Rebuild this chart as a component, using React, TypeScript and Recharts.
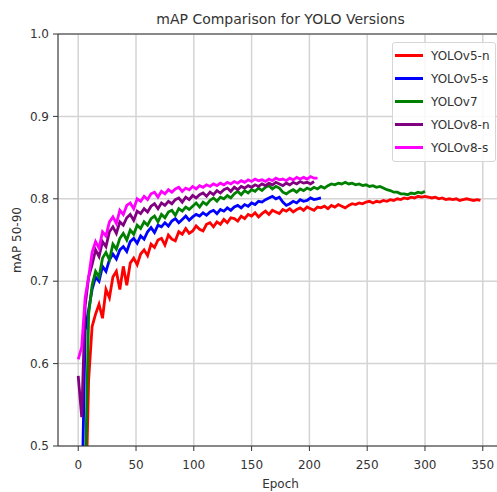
import React from 'react';
import { LineChart, Line, XAxis, YAxis, CartesianGrid, ReferenceLine } from 'recharts';

// epochs sampled every 3
const EPOCHS = [
  0, 3, 6, 9, 12, 15, 18, 21, 24, 27, 30, 33, 36, 39, 42, 45, 48, 51, 54, 57,
  60, 63, 66, 69, 72, 75, 78, 81, 84, 87, 90, 93, 96, 99, 102, 105, 108, 111, 114, 117,
  120, 123, 126, 129, 132, 135, 138, 141, 144, 147, 150, 153, 156, 159, 162, 165, 168, 171, 174, 177,
  180, 183, 186, 189, 192, 195, 198, 201, 204, 207, 210, 213, 216, 219, 222, 225, 228, 231, 234, 237,
  240, 243, 246, 249, 252, 255, 258, 261, 264, 267, 270, 273, 276, 279, 282, 285, 288, 291, 294, 297,
  300, 303, 306, 309, 312, 315, 318, 321, 324, 327, 330, 333, 336, 339, 342, 345, 348,
];

const YOLOV5N = [
  0.12, 0.25, 0.40, 0.58, 0.645, 0.66, 0.672, 0.655, 0.69, 0.68,
  0.705, 0.712, 0.69, 0.718, 0.695, 0.722, 0.728, 0.72, 0.733, 0.738,
  0.731, 0.745, 0.741, 0.75, 0.752, 0.744, 0.756, 0.751, 0.749, 0.76,
  0.757, 0.764, 0.758, 0.761, 0.767, 0.763, 0.761, 0.769, 0.771, 0.766,
  0.772, 0.769, 0.775, 0.771, 0.777, 0.776, 0.773, 0.779, 0.776, 0.781,
  0.779, 0.783, 0.778, 0.782, 0.785, 0.781, 0.786, 0.784, 0.782, 0.787,
  0.785, 0.788, 0.784, 0.787, 0.789, 0.786, 0.79, 0.788, 0.786, 0.79,
  0.789, 0.791, 0.788, 0.792, 0.79, 0.793, 0.791, 0.789, 0.792, 0.794,
  0.793, 0.795, 0.794, 0.796, 0.797, 0.795, 0.797, 0.796, 0.798, 0.797,
  0.799, 0.798, 0.8, 0.799, 0.801, 0.8, 0.802, 0.801, 0.803, 0.802,
  0.803, 0.802, 0.801, 0.802, 0.8, 0.801, 0.799, 0.8, 0.799, 0.8,
  0.798, 0.799, 0.8, 0.799, 0.798, 0.799, 0.798,
];

const YOLOV5S = [
  0.2, 0.42, 0.64, 0.665, 0.69, 0.705, 0.7, 0.718, 0.712, 0.726,
  0.733, 0.727, 0.738, 0.742, 0.736, 0.748, 0.752, 0.746, 0.755, 0.751,
  0.76, 0.765, 0.759, 0.768, 0.766, 0.771, 0.767, 0.773, 0.776, 0.771,
  0.775, 0.779, 0.774, 0.778, 0.781, 0.779, 0.783, 0.78, 0.784, 0.786,
  0.782, 0.787, 0.785, 0.789, 0.786, 0.79, 0.792, 0.789, 0.793, 0.791,
  0.795, 0.793, 0.797, 0.796, 0.799, 0.801, 0.803, 0.8, 0.802, 0.796,
  0.792, 0.794, 0.797, 0.795, 0.799, 0.797, 0.798, 0.801, 0.799, 0.8,
  0.801,
];

const YOLOV7 = [
  0.1, 0.2, 0.45, 0.66, 0.695, 0.712, 0.705, 0.728, 0.735, 0.726,
  0.745, 0.739, 0.752, 0.758, 0.75, 0.762, 0.757, 0.768, 0.764, 0.772,
  0.768, 0.776, 0.779, 0.772, 0.781, 0.777, 0.784, 0.786, 0.78, 0.788,
  0.785, 0.79, 0.787, 0.791, 0.795, 0.79, 0.796, 0.793, 0.798, 0.801,
  0.797, 0.802, 0.8, 0.804, 0.801, 0.806, 0.809, 0.805, 0.81, 0.807,
  0.811, 0.809, 0.813, 0.81, 0.814, 0.816, 0.812, 0.815, 0.813, 0.808,
  0.806, 0.809, 0.811, 0.808, 0.812, 0.81, 0.813, 0.811, 0.814, 0.812,
  0.815, 0.813, 0.816, 0.818, 0.817, 0.819, 0.818, 0.82, 0.818, 0.819,
  0.817, 0.818, 0.816, 0.817, 0.815, 0.816, 0.814, 0.815, 0.813, 0.811,
  0.81, 0.808, 0.808, 0.806, 0.806, 0.805, 0.807, 0.806, 0.808, 0.807,
  0.809,
];

const YOLOV8N = [
  0.585, 0.535, 0.67, 0.705, 0.72, 0.738, 0.73, 0.748, 0.742, 0.76,
  0.766, 0.758, 0.772, 0.768, 0.777, 0.781, 0.774, 0.785, 0.782, 0.788,
  0.784, 0.791, 0.794, 0.788, 0.795, 0.792, 0.797, 0.794, 0.799, 0.801,
  0.796, 0.802, 0.799, 0.804, 0.801, 0.805, 0.807, 0.803, 0.808, 0.805,
  0.81, 0.807, 0.811, 0.813, 0.809, 0.814, 0.811, 0.815, 0.813, 0.816,
  0.814, 0.817, 0.815, 0.818, 0.816, 0.819, 0.817, 0.82, 0.818, 0.816,
  0.819, 0.817, 0.82, 0.818, 0.821, 0.819, 0.82, 0.818, 0.821,
];

const YOLOV8S = [
  0.605, 0.62, 0.68, 0.705, 0.735, 0.748, 0.74, 0.76, 0.755, 0.772,
  0.778, 0.77, 0.786, 0.781, 0.792, 0.795, 0.788, 0.8, 0.797, 0.803,
  0.799, 0.806, 0.808, 0.802, 0.809, 0.806, 0.811, 0.808, 0.812, 0.814,
  0.809, 0.813, 0.811, 0.815, 0.812, 0.816, 0.814, 0.817, 0.815, 0.818,
  0.816, 0.819, 0.817, 0.82, 0.818, 0.821, 0.819, 0.822, 0.82, 0.823,
  0.821, 0.824, 0.822, 0.823, 0.821, 0.824, 0.822, 0.825, 0.823, 0.824,
  0.822, 0.825, 0.823, 0.826, 0.824, 0.826, 0.824, 0.827, 0.825, 0.825,
];

const SERIES = [
  { key: 'v5n', name: 'YOLOv5-n', color: '#ff0000', values: YOLOV5N },
  { key: 'v5s', name: 'YOLOv5-s', color: '#0000ff', values: YOLOV5S },
  { key: 'v7', name: 'YOLOv7', color: '#008000', values: YOLOV7 },
  { key: 'v8n', name: 'YOLOv8-n', color: '#800080', values: YOLOV8N },
  { key: 'v8s', name: 'YOLOv8-s', color: '#ff00ff', values: YOLOV8S },
];

const X_TICKS = [0, 50, 100, 150, 200, 250, 300, 350];
const Y_TICKS = [0.5, 0.6, 0.7, 0.8, 0.9, 1.0];

const chartData = EPOCHS.map((epoch, i) => {
  const row: Record<string, number> = { epoch };
  SERIES.forEach((s) => {
    if (i < s.values.length) row[s.key] = s.values[i];
  });
  return row;
});

const FONT = '"DejaVu Sans", sans-serif';
const TEXT = '#333';

function LegendBox() {
  return (
    <div
      style={{
        position: 'absolute', left: 392, top: 42, width: 104,
        background: 'rgba(255,255,255,0.85)',
        border: '1px solid #d6d6d6',
        borderRadius: 3,
        padding: '1px 4px 2px 2px',
        fontFamily: FONT,
        fontSize: 12,
        color: TEXT,
        boxSizing: 'border-box',
      }}
    >
      {SERIES.map((s) => (
        <div key={s.key} style={{ display: 'flex', alignItems: 'center', height: 23 }}>
          <span style={{ display: 'inline-block', width: 28, height: 3, background: s.color, marginRight: 8 }} />
          <span>{s.name}</span>
        </div>
      ))}
    </div>
  );
}

export default function App() {
  return (
    <div style={{ position: 'absolute', left: 0, top: 0, width: 497, height: 492, overflow: 'hidden', background: '#fff' }}>
      <LineChart width={503} height={492} data={chartData} margin={{ top: 34, right: 0, bottom: 0, left: 0 }}>
        <CartesianGrid stroke="#d4d4d4" strokeWidth={1.5} />
        <XAxis
          dataKey="epoch"
          type="number"
          domain={[-17.5, 367.5]}
          ticks={X_TICKS}
          allowDataOverflow
          height={46}
          tickSize={5}
          tickMargin={9}
          tick={{ fontSize: 12, fill: TEXT, fontFamily: FONT }}
          axisLine={{ stroke: '#333' }}
          tickLine={{ stroke: '#333' }}
        />
        <YAxis
          type="number"
          domain={[0.5, 1.0]}
          ticks={Y_TICKS}
          allowDataOverflow
          width={58}
          tickSize={5}
          tickMargin={4}
          tickFormatter={(v: number) => v.toFixed(1)}
          tick={{ fontSize: 12, fill: TEXT, fontFamily: FONT }}
          axisLine={{ stroke: '#333' }}
          tickLine={{ stroke: '#333' }}
        />
        <ReferenceLine y={1} stroke="#333" strokeWidth={1} />
        {SERIES.map((s) => (
          <Line
            key={s.key}
            dataKey={s.key}
            name={s.name}
            type="linear"
            stroke={s.color}
            strokeWidth={2.8}
            dot={false}
            isAnimationActive={false}
          />
        ))}
      </LineChart>

      <LegendBox />
      <div
        style={{
          position: 'absolute', left: 58, width: 445, top: 11, textAlign: 'center',
          fontFamily: FONT, fontSize: 14, lineHeight: '16px', color: TEXT,
        }}
      >
        mAP Comparison for YOLO Versions
      </div>
      <div
        style={{
          position: 'absolute', left: 58, width: 445, top: 477, textAlign: 'center',
          fontFamily: FONT, fontSize: 12, lineHeight: '14px', color: TEXT,
        }}
      >
        Epoch
      </div>
      <div
        style={{
          position: 'absolute', left: 17, top: 240, transform: 'translate(-50%, -50%) rotate(-90deg)',
          whiteSpace: 'nowrap', fontFamily: FONT, fontSize: 12, lineHeight: '14px', color: TEXT,
        }}
      >
        mAP 50-90
      </div>
    </div>
  );
}
